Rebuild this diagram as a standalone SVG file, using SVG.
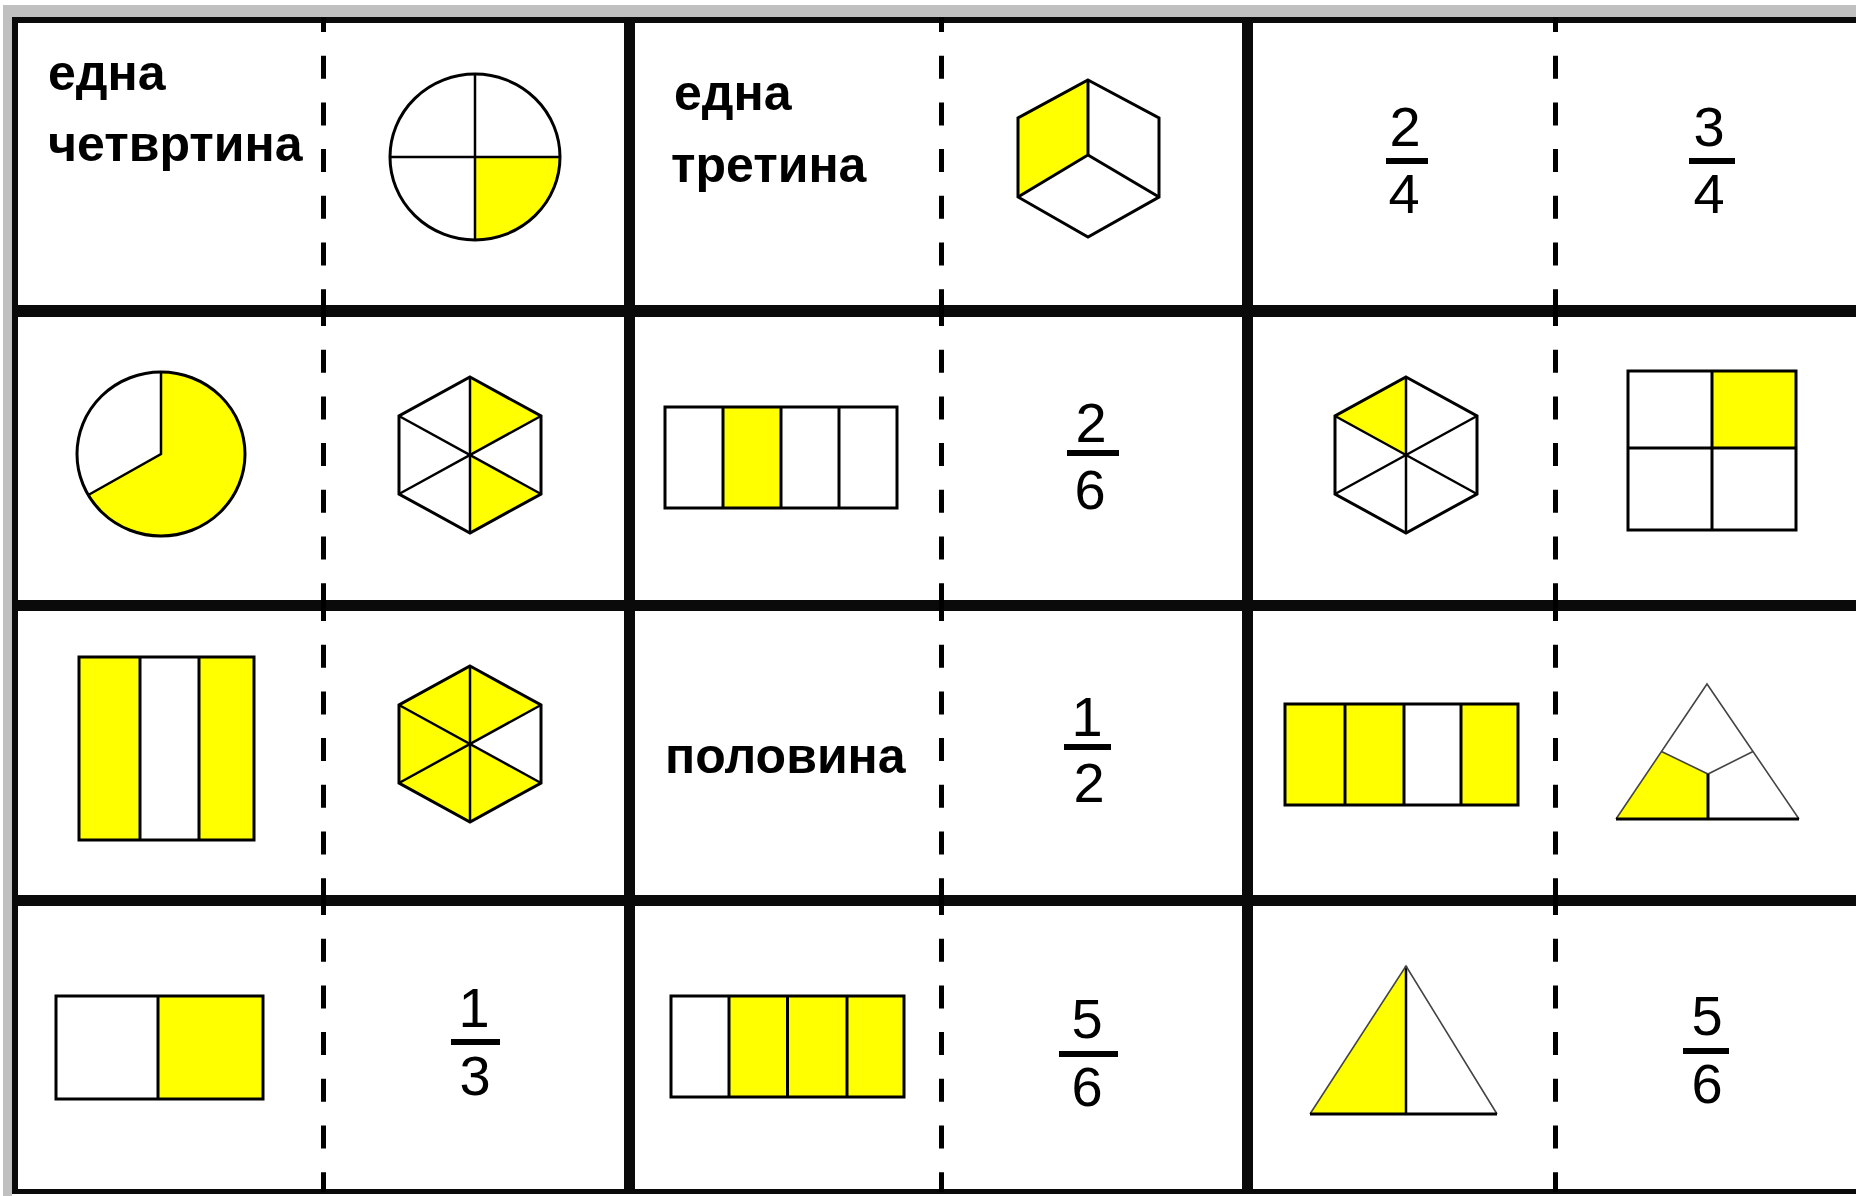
<svg xmlns="http://www.w3.org/2000/svg" width="1856" height="1196" viewBox="0 0 1856 1196">
<style>
.word{font-family:"Liberation Sans",Arial,sans-serif;font-weight:bold;font-size:50px;fill:#000}
.num{font-family:"Liberation Sans",Arial,sans-serif;font-size:56px;fill:#000;text-anchor:middle}
.bar{fill:#000}
.ln{fill:none;stroke:#000;stroke-width:3}
.lt{fill:none;stroke:#000;stroke-width:2.5}
.thin{fill:none;stroke:#444;stroke-width:1.6}
.y{fill:#ffff00}
.w{fill:#fff}
.rule{fill:#0a0a0a}
.dash{stroke:#000;stroke-width:5;stroke-dasharray:23 23.7;stroke-dashoffset:8}
</style>
<rect x="0" y="0" width="1856" height="1196" fill="#fff"/>
<rect x="3" y="5" width="1853" height="12" fill="#c0c0c0"/>
<rect x="3" y="5" width="9" height="1191" fill="#c0c0c0"/>

<g id="grid">
<rect class="rule" x="12" y="17" width="1844" height="6"/>
<rect class="rule" x="12" y="305" width="1844" height="12"/>
<rect class="rule" x="12" y="600" width="1844" height="11"/>
<rect class="rule" x="12" y="895" width="1844" height="11"/>
<rect class="rule" x="12" y="1189" width="1844" height="5"/>
<rect class="rule" x="12" y="17" width="6" height="1177"/>
<rect class="rule" x="624" y="17" width="11" height="1177"/>
<rect class="rule" x="1242" y="17" width="11" height="1177"/>
<line class="dash" x1="323.5" y1="17" x2="323.5" y2="311"/>
<line class="dash" x1="941.5" y1="17" x2="941.5" y2="311"/>
<line class="dash" x1="1555.5" y1="17" x2="1555.5" y2="311"/>
<line class="dash" x1="323.5" y1="311" x2="323.5" y2="606"/>
<line class="dash" x1="941.5" y1="311" x2="941.5" y2="606"/>
<line class="dash" x1="1555.5" y1="311" x2="1555.5" y2="606"/>
<line class="dash" x1="323.5" y1="606" x2="323.5" y2="900"/>
<line class="dash" x1="941.5" y1="606" x2="941.5" y2="900"/>
<line class="dash" x1="1555.5" y1="606" x2="1555.5" y2="900"/>
<line class="dash" x1="323.5" y1="900" x2="323.5" y2="1192"/>
<line class="dash" x1="941.5" y1="900" x2="941.5" y2="1192"/>
<line class="dash" x1="1555.5" y1="900" x2="1555.5" y2="1192"/>
</g>

<g id="card-r1c1">
<text class="word" x="48" y="90">една</text>
<text class="word" x="48" y="161">четвртина</text>
<ellipse cx="475" cy="157" rx="85" ry="83" class="w"/>
<path class="y" d="M475,157 L560,157 A85,83 0 0,1 475,240 Z"/>
<line class="lt" x1="475" y1="74" x2="475" y2="240"/>
<line class="lt" x1="390" y1="157" x2="560" y2="157"/>
<ellipse cx="475" cy="157" rx="85" ry="83" class="ln"/>
</g>

<g id="card-r1c2">
<text class="word" x="674" y="110">една</text>
<text class="word" x="671" y="182">третина</text>
<polygon class="w" points="1088,80 1159,118 1159,197 1088,237 1018,197 1018,118"/>
<polygon class="y" points="1088,80 1018,118 1018,197 1088,155"/>
<polyline class="ln" points="1088,80 1088,155 1018,197"/>
<line class="ln" x1="1088" y1="155" x2="1159" y2="197"/>
<polygon class="ln" points="1088,80 1159,118 1159,197 1088,237 1018,197 1018,118"/>
</g>

<g id="card-r1c3">
<text class="num" x="1405" y="146">2</text>
<rect class="bar" x="1386" y="158" width="42" height="6"/>
<text class="num" x="1404" y="213">4</text>
<text class="num" x="1709" y="146">3</text>
<rect class="bar" x="1689" y="158" width="46" height="6"/>
<text class="num" x="1709" y="213">4</text>
</g>

<g id="card-r2c1">
<ellipse cx="161" cy="454" rx="84" ry="82" class="w"/>
<path class="y" d="M161,454 L161,372 A84,82 0 1,1 88.3,495 Z"/>
<polyline class="lt" points="161,372 161,454 88.3,495"/>
<ellipse cx="161" cy="454" rx="84" ry="82" class="ln"/>
<polygon class="w" points="470,377 541,416 541,494 470,533 399,494 399,416"/>
<polygon class="y" points="470,377 541,416 470,455"/>
<polygon class="y" points="541,494 470,533 470,455"/>
<line class="lt" x1="470" y1="377" x2="470" y2="533"/>
<line class="lt" x1="399" y1="416" x2="541" y2="494"/>
<line class="lt" x1="541" y1="416" x2="399" y2="494"/>
<polygon class="ln" points="470,377 541,416 541,494 470,533 399,494 399,416"/>
</g>

<g id="card-r2c2">
<rect class="w" x="665" y="407" width="232" height="101"/>
<rect class="y" x="723" y="407" width="58" height="101"/>
<line class="ln" x1="723" y1="407" x2="723" y2="508"/>
<line class="ln" x1="781" y1="407" x2="781" y2="508"/>
<line class="ln" x1="839" y1="407" x2="839" y2="508"/>
<rect class="ln" x="665" y="407" width="232" height="101"/>
<text class="num" x="1091" y="442">2</text>
<rect class="bar" x="1067" y="450" width="52" height="6"/>
<text class="num" x="1090" y="509">6</text>
</g>

<g id="card-r2c3">
<polygon class="w" points="1406,377 1477,416 1477,494 1406,533 1335,494 1335,416"/>
<polygon class="y" points="1335,416 1406,377 1406,455"/>
<line class="lt" x1="1406" y1="377" x2="1406" y2="533"/>
<line class="lt" x1="1335" y1="416" x2="1477" y2="494"/>
<line class="lt" x1="1477" y1="416" x2="1335" y2="494"/>
<polygon class="ln" points="1406,377 1477,416 1477,494 1406,533 1335,494 1335,416"/>
<rect class="w" x="1628" y="371" width="168" height="159"/>
<rect class="y" x="1712" y="371" width="84" height="77"/>
<line class="ln" x1="1712" y1="371" x2="1712" y2="530"/>
<line class="ln" x1="1628" y1="448" x2="1796" y2="448"/>
<rect class="ln" x="1628" y="371" width="168" height="159"/>
</g>

<g id="card-r3c1">
<rect class="w" x="79" y="657" width="175" height="183"/>
<rect class="y" x="79" y="657" width="61" height="183"/>
<rect class="y" x="199" y="657" width="55" height="183"/>
<line class="ln" x1="140" y1="657" x2="140" y2="840"/>
<line class="ln" x1="199" y1="657" x2="199" y2="840"/>
<rect class="ln" x="79" y="657" width="175" height="183"/>
<polygon class="y" points="470,666 541,705 541,783 470,822 399,783 399,705"/>
<polygon class="w" points="541,705 541,783 470,744"/>
<line class="lt" x1="470" y1="666" x2="470" y2="822"/>
<line class="lt" x1="399" y1="705" x2="541" y2="783"/>
<line class="lt" x1="541" y1="705" x2="399" y2="783"/>
<polygon class="ln" points="470,666 541,705 541,783 470,822 399,783 399,705"/>
</g>

<g id="card-r3c2">
<text class="word" x="665" y="773">половина</text>
<text class="num" x="1087" y="736">1</text>
<rect class="bar" x="1064" y="744" width="47" height="6"/>
<text class="num" x="1089" y="802">2</text>
</g>

<g id="card-r3c3">
<rect class="y" x="1285" y="704" width="233" height="101"/>
<rect class="w" x="1404" y="704" width="57" height="101"/>
<line class="ln" x1="1345" y1="704" x2="1345" y2="805"/>
<line class="ln" x1="1404" y1="704" x2="1404" y2="805"/>
<line class="ln" x1="1461" y1="704" x2="1461" y2="805"/>
<rect class="ln" x="1285" y="704" width="233" height="101"/>
<polygon class="w" points="1707,684 1616,819 1799,819"/>
<polygon class="y" points="1616,819 1661.5,751.5 1708,774 1708,819"/>
<polyline class="thin" points="1661.5,751.5 1708,774 1753,751.5"/>
<line class="ln" x1="1708" y1="774" x2="1708" y2="819"/>
<polyline class="thin" points="1616,819 1707,684 1799,819"/>
<line class="ln" x1="1616" y1="819" x2="1799" y2="819"/>
</g>

<g id="card-r4c1">
<rect class="w" x="56" y="996" width="207" height="103"/>
<rect class="y" x="158" y="996" width="105" height="103"/>
<line class="ln" x1="158" y1="996" x2="158" y2="1099"/>
<rect class="ln" x="56" y="996" width="207" height="103"/>
<text class="num" x="474" y="1027">1</text>
<rect class="bar" x="451" y="1039" width="49" height="6"/>
<text class="num" x="475" y="1095">3</text>
</g>

<g id="card-r4c2">
<rect class="y" x="671" y="996" width="233" height="101"/>
<rect class="w" x="671" y="996" width="58" height="101"/>
<line class="ln" x1="729" y1="996" x2="729" y2="1097"/>
<line class="ln" x1="787.5" y1="996" x2="787.5" y2="1097"/>
<line class="ln" x1="847" y1="996" x2="847" y2="1097"/>
<rect class="ln" x="671" y="996" width="233" height="101"/>
<text class="num" x="1087" y="1038">5</text>
<rect class="bar" x="1059" y="1051" width="59" height="6"/>
<text class="num" x="1087" y="1106">6</text>
</g>

<g id="card-r4c3">
<polygon class="w" points="1406,966 1310,1114 1497,1114"/>
<polygon class="y" points="1406,966 1310,1114 1406,1114"/>
<line class="lt" x1="1406" y1="966" x2="1406" y2="1114"/>
<polyline class="thin" points="1310,1114 1406,966 1497,1114"/>
<line class="ln" x1="1310" y1="1114" x2="1497" y2="1114"/>
<text class="num" x="1707" y="1035">5</text>
<rect class="bar" x="1683" y="1048" width="46" height="6"/>
<text class="num" x="1707" y="1103">6</text>
</g>
</svg>
